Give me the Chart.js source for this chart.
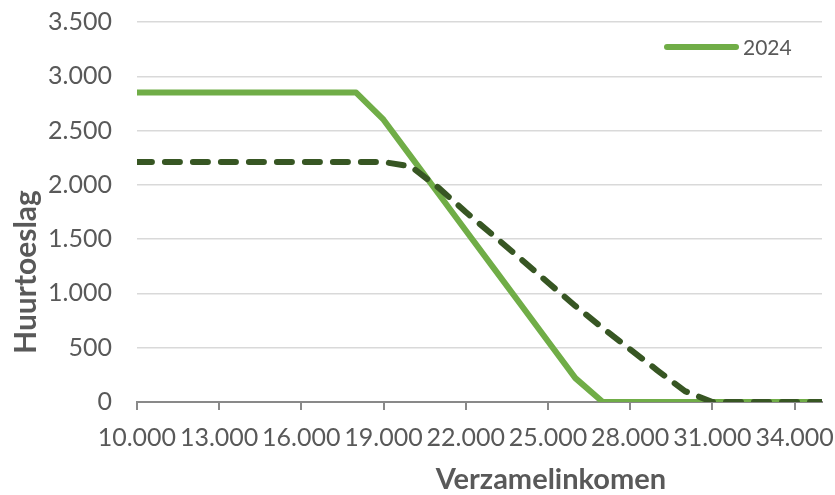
<!DOCTYPE html>
<html lang="nl">
<head>
    <meta charset="UTF-8">
    <title>Huurtoeslag naar verzamelinkomen</title>
    <style>
        html, body {
            margin: 0;
            padding: 0;
            background-color: #ffffff;
        }
        .chart-container {
            width: 835px;
            height: 495px;
        }
    </style>
</head>
<body>
    <div class="chart-container">
        <canvas id="chart"></canvas>
    </div>

    <script src="https://cdn.jsdelivr.net/npm/chart.js"></script>

    <script>
        // Verzamelinkomen (x) per 1.000 euro
        const incomes = [10000, 11000, 12000, 13000, 14000, 15000, 16000, 17000, 18000, 19000,
                         20000, 21000, 22000, 23000, 24000, 25000, 26000, 27000, 28000, 29000,
                         30000, 31000, 32000, 33000, 34000, 35000];

        // Huurtoeslag 2024 (doorgetrokken lijn)
        const huurtoeslag2024 = [2850, 2850, 2850, 2850, 2850, 2850, 2850, 2850, 2850, 2600,
                                 2260, 1920, 1580, 1240, 900, 560, 220, 0, 0, 0,
                                 0, 0, 0, 0, 0, 0];

        // Huurtoeslag tweede situatie (gestippelde lijn, niet in legenda)
        const huurtoeslagOud = [2210, 2210, 2210, 2210, 2210, 2210, 2210, 2210, 2210, 2210,
                                2170, 1975, 1750, 1535, 1320, 1100, 885, 680, 485, 290,
                                100, 0, 0, 0, 0, 0];

        const xTicks = [10000, 13000, 16000, 19000, 22000, 25000, 28000, 31000, 34000];
        const yTicks = [0, 500, 1000, 1500, 2000, 2500, 3000, 3500];

        const green = '#70AD47';
        const darkGreen = '#375623';
        const textColor = '#595959';
        const fontFamily = 'Lato, "Open Sans", sans-serif';

        // Nederlandse notatie: 10000 -> 10.000
        function formatNL(value) {
            return String(value).replace(/\B(?=(\d{3})+(?!\d))/g, '.');
        }

        // Axis titles and legend are placed like in the Excel original
        const titlesAndLegend = {
            id: 'titlesAndLegend',
            afterDraw(chart) {
                const { ctx, chartArea: area } = chart;
                ctx.save();
                ctx.fillStyle = textColor;
                ctx.textAlign = 'center';
                ctx.textBaseline = 'middle';
                ctx.font = 'bold 29px ' + fontFamily;
                ctx.fillText('Verzamelinkomen', area.left + 414, area.bottom + 78);

                ctx.save();
                ctx.font = 'bold 30px ' + fontFamily;
                ctx.translate(26, area.top + 250);
                ctx.rotate(-Math.PI / 2);
                ctx.fillText('Huurtoeslag', 0, 0);
                ctx.restore();

                // legend: only the 2024 series is listed
                const ds = chart.data.datasets[0];
                const y = area.top + 25;
                ctx.strokeStyle = ds.borderColor;
                ctx.lineWidth = 6;
                ctx.lineCap = 'round';
                ctx.beginPath();
                ctx.moveTo(area.right - 155, y);
                ctx.lineTo(area.right - 86, y);
                ctx.stroke();
                ctx.textAlign = 'left';
                ctx.font = '21px ' + fontFamily;
                ctx.fillText(ds.label, area.right - 79, y + 1);
                ctx.restore();
            }
        };

        new Chart(document.getElementById('chart').getContext('2d'), {
            type: 'line',
            data: {
                datasets: [{
                    label: '2024',
                    data: incomes.map((x, i) => ({ x: x, y: huurtoeslag2024[i] })),
                    borderColor: green,
                    backgroundColor: green,
                    borderWidth: 6,
                    borderJoinStyle: 'round',
                    pointRadius: 0,
                    tension: 0,
                    order: 1
                }, {
                    label: 'Oud',
                    data: incomes.map((x, i) => ({ x: x, y: huurtoeslagOud[i] })),
                    borderColor: darkGreen,
                    backgroundColor: darkGreen,
                    borderWidth: 6,
                    borderDash: [15, 13],
                    borderCapStyle: 'round',
                    borderJoinStyle: 'round',
                    pointRadius: 0,
                    tension: 0,
                    order: 0
                }]
            },
            plugins: [titlesAndLegend],
            options: {
                responsive: true,
                maintainAspectRatio: false,
                animation: false,
                layout: {
                    padding: { top: 0, right: 13, bottom: 29, left: 41 }
                },
                plugins: {
                    legend: { display: false },
                    tooltip: { enabled: false }
                },
                scales: {
                    x: {
                        type: 'linear',
                        min: incomes[0],
                        max: incomes[incomes.length - 1],
                        afterBuildTicks: scale => {
                            scale.ticks = xTicks.map(v => ({ value: v }));
                        },
                        // last label may run into the right margin, like in Excel
                        afterFit: scale => {
                            scale.paddingRight = 0;
                        },
                        ticks: {
                            autoSkip: false,
                            maxRotation: 0,
                            padding: 13,
                            color: textColor,
                            font: { family: fontFamily, size: 25 },
                            callback: v => formatNL(v)
                        },
                        grid: {
                            drawOnChartArea: false,
                            drawTicks: true,
                            tickLength: 8,
                            color: '#898989',
                            lineWidth: 2
                        },
                        border: { color: '#898989', width: 2 }
                    },
                    y: {
                        min: 0,
                        max: 3500,
                        afterBuildTicks: scale => {
                            scale.ticks = yTicks.map(v => ({ value: v }));
                        },
                        ticks: {
                            padding: 7,
                            color: textColor,
                            font: { family: fontFamily, size: 25 },
                            callback: v => formatNL(v)
                        },
                        grid: {
                            drawTicks: true,
                            tickLength: 18,
                            tickColor: 'rgba(0,0,0,0)',
                            color: '#d9d9d9',
                            lineWidth: 1.5
                        },
                        border: { display: false }
                    }
                }
            }
        });
    </script>
</body>
</html>
